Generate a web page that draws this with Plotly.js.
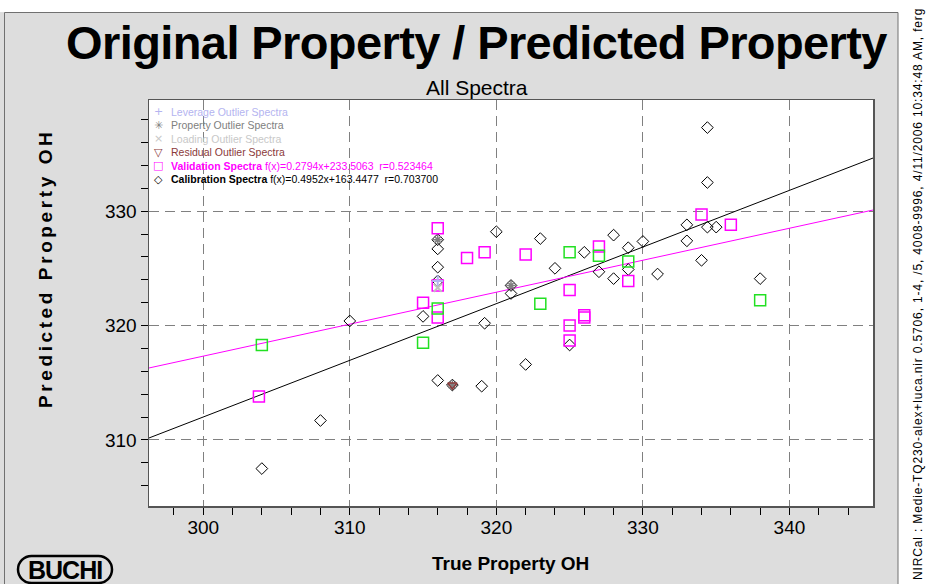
<!DOCTYPE html>
<html>
<head>
<meta charset="utf-8">
<script src="https://cdn.plot.ly/plotly-3.0.1.min.js"></script>
<style>html,body{margin:0;padding:0;background:#fff;}#chart{width:934px;height:584px;}</style>
</head>
<body>
<div id="chart"></div>
<script>
// ---- data ----
const calX = [304, 308, 310, 315, 316, 316, 316, 316, 316, 317, 319, 319.2, 320, 321, 321, 322, 323, 324, 325, 326, 327, 328, 328, 329, 329, 330, 331, 333, 333, 334, 334.4, 334.4, 334.4, 335, 338];
const calY = [307.5, 311.7, 320.4, 320.8, 315.2, 323.9, 325.1, 326.7, 327.5, 314.8, 314.7, 320.2, 328.2, 323.5, 322.8, 316.6, 327.6, 325.0, 318.3, 326.4, 324.7, 327.9, 324.1, 326.8, 324.9, 327.35, 324.5, 328.8, 327.4, 325.7, 337.3, 332.5, 328.6, 328.6, 324.1];

const valX = [303.8, 315, 316, 316, 316, 318, 319.2, 322, 325, 325, 325, 326, 326, 327, 329, 334, 336];
const valY = [313.8, 322.0, 328.5, 323.5, 320.7, 325.9, 326.4, 326.2, 323.1, 320.0, 318.7, 320.7, 320.9, 326.9, 323.9, 329.7, 328.8];

const valGreenX = [304, 315, 316, 323, 325, 327, 329, 338];
const valGreenY = [318.3, 318.5, 321.5, 321.9, 326.4, 326.1, 325.6, 322.2];

const leverageX = [316];
const leverageY = [323.9];
const propertyX = [316, 321, 317];
const propertyY = [327.5, 323.5, 314.8];
const loadingX = [316];
const loadingY = [323.3];
const residualX = [317];
const residualY = [314.8];

const calFit = {slope: 0.4952, intercept: 163.4477, r: '0.703700'};
const valFit = {slope: 0.2794, intercept: 233.5063, r: '0.523464'};

const xTicks = [300, 310, 320, 330, 340];
const yTicks = [310, 320, 330];
const xRange = [296.3, 345.7];
const yRange = [304.23, 339.71];

// ---- layout helpers (pixel -> paper) ----
const L = 149, R = 873, T = 100, B = 506;
const W = 934, H = 584;
const px = x => (x - L) / (R - L);
const py = y => (B - y) / (B - T);

const fitLine = (f) => ({x: xRange, y: xRange.map(v => f.slope * v + f.intercept)});
const calLine = fitLine(calFit);
const valLine = fitLine(valFit);

const traces = [
  {x: calLine.x, y: calLine.y, mode: 'lines', line: {color: '#000', width: 1}, showlegend: false, hoverinfo: 'skip'},
  {x: valLine.x, y: valLine.y, mode: 'lines', line: {color: '#ff00ff', width: 1}, showlegend: false, hoverinfo: 'skip'},
  {x: calX, y: calY, mode: 'markers', name: 'Calibration Spectra',
   marker: {symbol: 'diamond-open', size: 9, color: '#000', line: {width: 1}}, showlegend: false},
  {x: valX, y: valY, mode: 'markers', name: 'Validation Spectra',
   marker: {symbol: 'square-open', size: 11, color: '#ff00ff', line: {width: 1.5}}, showlegend: false},
  {x: valGreenX, y: valGreenY, mode: 'markers', name: 'Validation Spectra (2)',
   marker: {symbol: 'square-open', size: 11, color: '#22e022', line: {width: 1.5}}, showlegend: false},
  {x: propertyX, y: propertyY, mode: 'markers', name: 'Property Outlier Spectra',
   marker: {symbol: 'asterisk-open', size: 8, color: '#808080', line: {width: 1.5, color: '#808080'}}, showlegend: false},
  {x: leverageX, y: leverageY, mode: 'markers', name: 'Leverage Outlier Spectra',
   marker: {symbol: 'cross-thin-open', size: 8, color: '#b4b4f0', line: {width: 2, color: '#b4b4f0'}}, showlegend: false},
  {x: loadingX, y: loadingY, mode: 'markers', name: 'Loading Outlier Spectra',
   marker: {symbol: 'x-thin-open', size: 8, color: '#c0c0c0', line: {width: 2, color: '#c0c0c0'}}, showlegend: false},
  {x: residualX, y: residualY, mode: 'markers', name: 'Residual Outlier Spectra',
   marker: {symbol: 'triangle-down-open', size: 8, color: '#8b3a3a', line: {width: 1.5, color: '#8b3a3a'}}, showlegend: false}
];

// legend rows (drawn as text)
const legendRows = [
  {sym: '+', symColor: '#b4b4f0', text: '<span style="color:#b4b4f0">Leverage Outlier Spectra</span>'},
  {sym: '✳', symColor: '#808080', text: '<span style="color:#808080">Property Outlier Spectra</span>'},
  {sym: '×', symColor: '#c8c8c8', text: '<span style="color:#c8c8c8">Loading Outlier Spectra</span>'},
  {sym: '▽', symColor: '#8b3a3a', text: '<span style="color:#8b3a3a">Residual Outlier Spectra</span>'},
  {sym: '□', symColor: '#ff00ff', text: '<span style="color:#ff00ff"><b>Validation Spectra</b> f(x)=' + valFit.slope + 'x+' + valFit.intercept + '  r=' + valFit.r + '</span>'},
  {sym: '◇', symColor: '#000000', text: '<span style="color:#000"><b>Calibration Spectra</b> f(x)=' + calFit.slope + 'x+' + calFit.intercept + '  r=' + calFit.r + '</span>'}
];
const legendTop = 112, legendStep = 13.4;

const annotations = [];
legendRows.forEach((r, i) => {
  const yy = py(legendTop + i * legendStep);
  annotations.push({xref: 'paper', yref: 'paper', x: px(158), y: yy, xanchor: 'center', yanchor: 'middle',
    text: r.sym, showarrow: false, font: {family: 'DejaVu Sans', size: 11, color: r.symColor}});
  annotations.push({xref: 'paper', yref: 'paper', x: px(169), y: yy, xanchor: 'left', yanchor: 'middle',
    text: r.text, showarrow: false, font: {family: 'Liberation Sans, Arial', size: 10.5, color: '#000'}});
});

annotations.push({xref: 'paper', yref: 'paper', x: px(477), y: py(87), xanchor: 'center', yanchor: 'middle',
  text: 'All Spectra', showarrow: false, font: {family: 'Liberation Sans', size: 21, color: '#000'}});

annotations.push({xref: 'paper', yref: 'paper', x: px(45), y: py(269), xanchor: 'center', yanchor: 'middle',
  text: '<span style="letter-spacing:3.6px"><b>Predicted Property OH</b></span>', textangle: -90, showarrow: false,
  font: {family: 'Liberation Sans, Arial', size: 19, color: '#000'}});

annotations.push({xref: 'paper', yref: 'paper', x: px(510), y: py(563), xanchor: 'center', yanchor: 'middle',
  text: '<b>True Property OH</b>', showarrow: false,
  font: {family: 'Liberation Sans, Arial', size: 19, color: '#000'}});

annotations.push({xref: 'paper', yref: 'paper', x: px(918), y: py(582), xanchor: 'center', yanchor: 'bottom',
  text: '<span style="letter-spacing:0.85px">NIRCal : Medie-TQ230-alex+luca.nir 0.5706, 1-4, /5, 4008-9996, 4/11/2006 10:34:48 AM, ferg</span>',
  textangle: -90, showarrow: false, font: {family: 'Liberation Sans, Arial', size: 12, color: '#000'}});

annotations.push({xref: 'paper', yref: 'paper', x: px(65), y: py(570), xanchor: 'center', yanchor: 'middle',
  text: '<span style="letter-spacing:-1px"><b>BUCHI</b></span>', showarrow: false,
  font: {family: 'Liberation Sans, Arial', size: 25, color: '#000'}});

// pill outline for logo
function pill(x0, y0, x1, y1) {
  const r = (y1 - y0) / 2, k = 0.5523 * r, cy = (y0 + y1) / 2;
  const P = (x, y) => px(x) + ',' + py(y);
  return 'M' + P(x0 + r, y0) + ' L' + P(x1 - r, y0) +
    ' C' + P(x1 - r + k, y0) + ' ' + P(x1, cy - k) + ' ' + P(x1, cy) +
    ' C' + P(x1, cy + k) + ' ' + P(x1 - r + k, y1) + ' ' + P(x1 - r, y1) +
    ' L' + P(x0 + r, y1) +
    ' C' + P(x0 + r - k, y1) + ' ' + P(x0, cy + k) + ' ' + P(x0, cy) +
    ' C' + P(x0, cy - k) + ' ' + P(x0 + r - k, y0) + ' ' + P(x0 + r, y0) + ' Z';
}

const shapes = [
  {type: 'rect', xref: 'paper', yref: 'paper', x0: px(-5), x1: px(W + 5), y0: py(-5), y1: py(12), fillcolor: '#fff', line: {width: 0}, layer: 'below'},
  {type: 'rect', xref: 'paper', yref: 'paper', x0: px(898), x1: px(W + 5), y0: py(H + 5), y1: py(-5), fillcolor: '#fff', line: {width: 0}, layer: 'below'},
  {type: 'rect', xref: 'paper', yref: 'paper', x0: px(4.5), x1: px(898), y0: py(H + 5), y1: py(12.5), fillcolor: 'rgba(0,0,0,0)', line: {width: 1, color: '#707070'}, layer: 'below'},
  {type: 'path', xref: 'paper', yref: 'paper', path: pill(18, 556, 112, 583), line: {width: 2.5, color: '#000'}, layer: 'above'}
];

const axisCommon = {
  showline: true, mirror: true, linecolor: '#555', linewidth: 1.5,
  ticks: 'outside', ticklen: 7, tickcolor: '#000', tickwidth: 1,
  showgrid: true, gridcolor: '#808080', gridwidth: 1, griddash: '10px,6px',
  zeroline: false, tickfont: {family: 'Liberation Sans, Arial', size: 19, color: '#000'},
  minor: {dtick: 2, ticks: 'outside', ticklen: 7, tickcolor: '#000', showgrid: false}
};

const layout = {
  width: W, height: H,
  margin: {l: L, r: W - R, t: T, b: H - B, pad: 0},
  paper_bgcolor: '#dddddd', plot_bgcolor: '#ffffff',
  showlegend: false,
  title: {text: '<span style="letter-spacing:-0.6px"><b>Original Property / Predicted Property</b></span>', x: 476.5 / W, xanchor: 'center', xref: 'container',
          y: 1 - 43 / H, yanchor: 'middle', yref: 'container',
          font: {family: 'Liberation Sans', size: 47, color: '#000'}},
  xaxis: Object.assign({}, axisCommon, {range: xRange, tickvals: xTicks, ticktext: xTicks.map(String), ticklabelstandoff: -3}),
  yaxis: Object.assign({}, axisCommon, {range: yRange, tickvals: yTicks, ticktext: yTicks.map(String)}),
  annotations: annotations,
  shapes: shapes
};

Plotly.newPlot('chart', traces, layout, {displayModeBar: false, staticPlot: true});
</script>
</body>
</html>
